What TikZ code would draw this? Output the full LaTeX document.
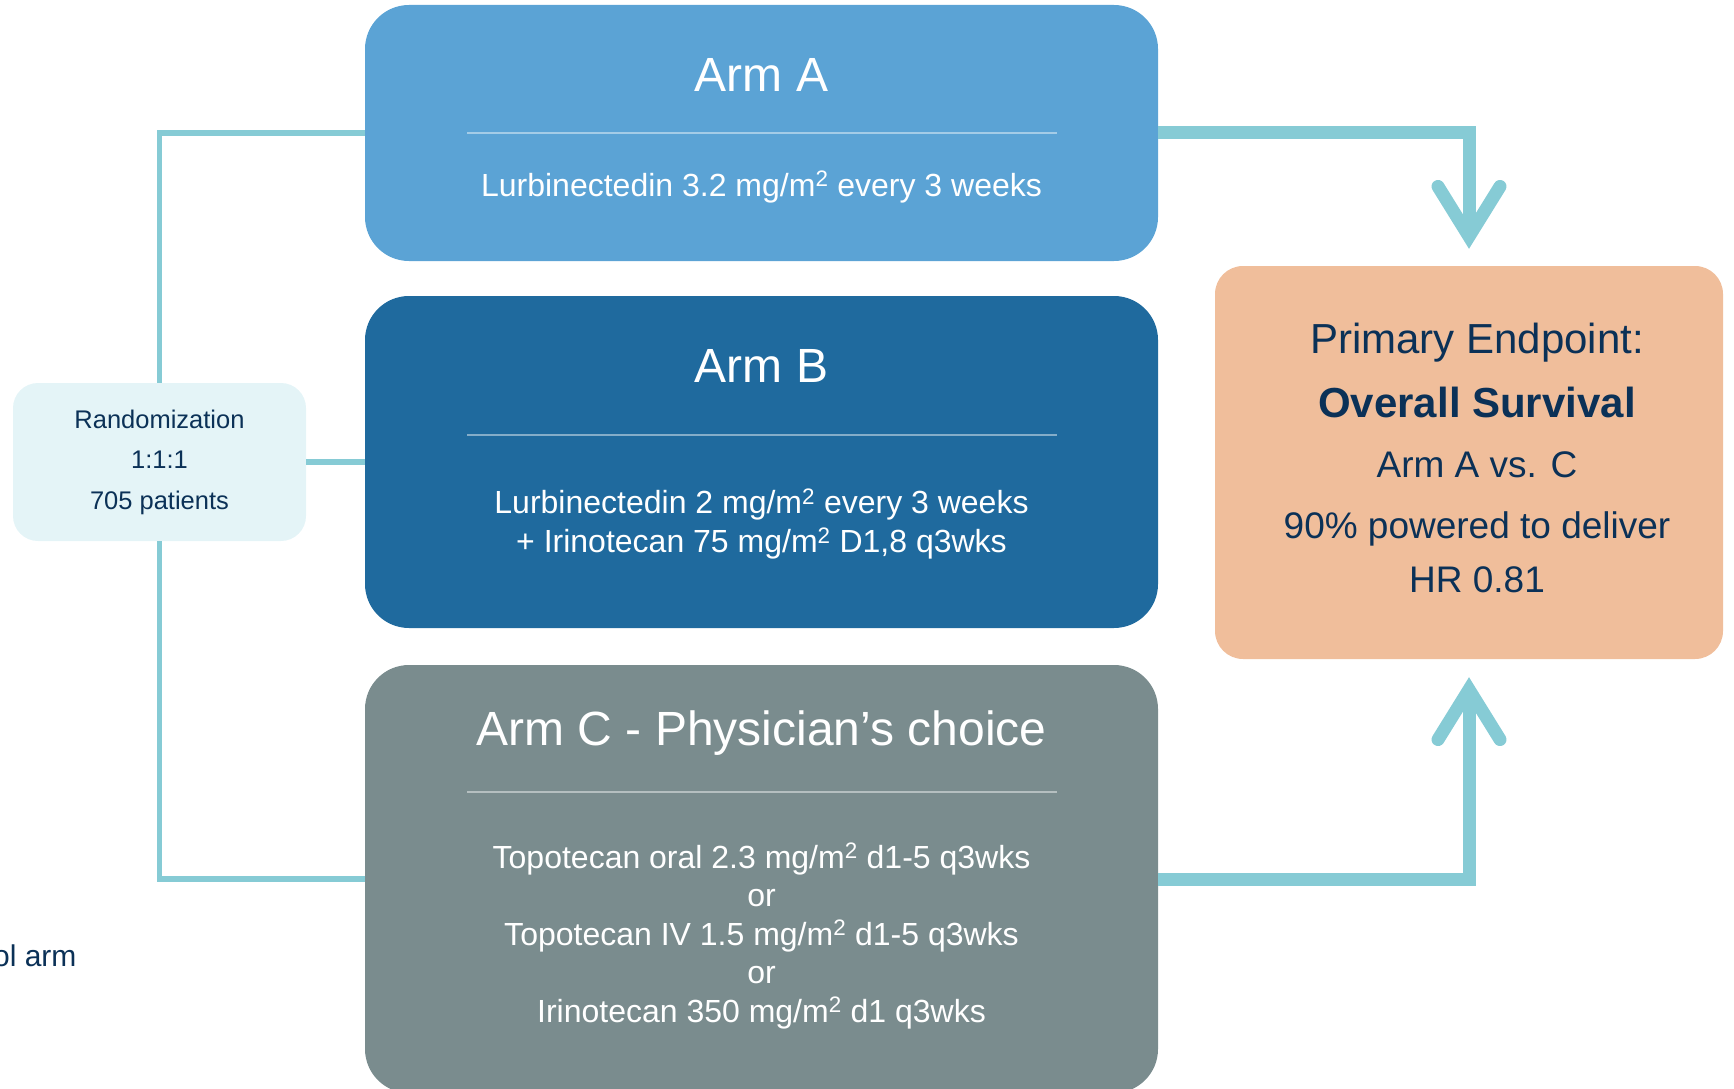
\documentclass[tikz,border=0pt]{standalone}
\usepackage{fontspec}
\setmainfont{Liberation Sans}
\usetikzlibrary{positioning, arrows.meta}

\begin{document}
\begin{tikzpicture}[x=1pt, y=-1pt,
    caja/.style={rounded corners=44pt, inner sep=0pt, minimum width=793pt},
    titulo/.style={text=white, font=\fontsize{48}{56}\selectfont},
    detalle/.style={text=white, align=center, font=\fontsize{32}{38.5}\selectfont},
    separador/.style={line width=2.5pt, white, opacity=0.45},
    enlace/.style={line width=5.5pt, conector},
    flujo/.style={line width=13pt, conector, -{Straight Barb[length=50pt, width=62pt, line cap=round]}},
    oscuro/.style={text=navy, align=center}]
    % Definir colores
    \definecolor{brazoA}{RGB}{91,163,213}    % Azul claro
    \definecolor{brazoB}{RGB}{31,106,158}    % Azul oscuro
    \definecolor{brazoC}{RGB}{122,140,142}   % Gris
    \definecolor{randfondo}{RGB}{228,244,247}
    \definecolor{objetivo}{RGB}{240,190,155} % Naranja claro
    \definecolor{conector}{RGB}{134,203,213}
    \definecolor{navy}{RGB}{11,49,87}

    \useasboundingbox (0,0) rectangle (1734,1089);
    \clip (0,0) rectangle (1734,1089);

    % Brazo A
    \node[caja, fill=brazoA, minimum height=256pt] (armA) at (761.5,133) {};
    \node[titulo] (titA) at (761.5,75) {Arm A};
    \draw[separador] (467,133) -- (1057,133);
    \node[detalle] (txtA) at (761.5,187) {Lurbinectedin 3.2 mg/m\textsuperscript{2} every 3 weeks};

    % Brazo B
    \node[caja, fill=brazoB, minimum height=332pt] (armB) at (761.5,462) {};
    \node[titulo] (titB) at (761.5,366) {Arm B};
    \draw[separador] (467,435) -- (1057,435);
    \node[detalle] (txtB) at (761.5,524) {Lurbinectedin 2 mg/m\textsuperscript{2} every 3 weeks\\+ Irinotecan 75 mg/m\textsuperscript{2} D1,8 q3wks};

    % Brazo C
    \node[caja, fill=brazoC, minimum height=428pt] (armC) at (761.5,879) {};
    \node[titulo] (titC) at (761.5,733) {Arm C - Physician’s choice};
    \draw[separador] (467,792) -- (1057,792);
    \node[detalle] (txtC) at (761.5,936) {Topotecan oral 2.3 mg/m\textsuperscript{2} d1-5 q3wks\\or\\Topotecan IV 1.5 mg/m\textsuperscript{2} d1-5 q3wks\\or\\Irinotecan 350 mg/m\textsuperscript{2} d1 q3wks};

    % Aleatorizacion
    \node[oscuro, fill=randfondo, rounded corners=25pt, minimum width=293pt, minimum height=158pt,
          font=\fontsize{25.5}{40.5}\selectfont] (rand) at (159.5,462) {Randomization\\1:1:1\\705 patients};

    % Objetivo primario
    \node[fill=objetivo, rounded corners=28pt, minimum width=508pt, minimum height=393pt] (ep) at (1469,462.5) {};
    \node[oscuro, font=\fontsize{42}{50}\selectfont] (ep1) at (1477,343) {Primary Endpoint:};
    \node[oscuro, font=\bfseries\fontsize{42}{50}\selectfont] (ep2) at (1477,402) {Overall Survival};
    \node[oscuro, font=\fontsize{37}{44}\selectfont] (ep3) at (1477,465) {Arm A vs. C};
    \node[oscuro, font=\fontsize{37}{44}\selectfont] (ep4) at (1477,529) {90\% powered to deliver};
    \node[oscuro, font=\fontsize{37}{44}\selectfont] (ep5) at (1477,580) {HR 0.81};

    % Lineas de aleatorizacion
    \draw[enlace] (armA.west) -| (rand.north);
    \draw[enlace] (armC.west) -| (rand.south);
    \draw[enlace] (rand) -- (armB);

    % Flechas hacia el objetivo
    \draw[flujo, shorten >=17pt] (armA.east) -| (ep.north);
    \draw[flujo, shorten >=18pt] (armC.east) -| (ep.south);

    % Texto cortado
    \node[text=navy, anchor=east, font=\fontsize{30}{36}\selectfont] (ctrl) at (80,956) {Control arm};

\end{tikzpicture}
\end{document}
